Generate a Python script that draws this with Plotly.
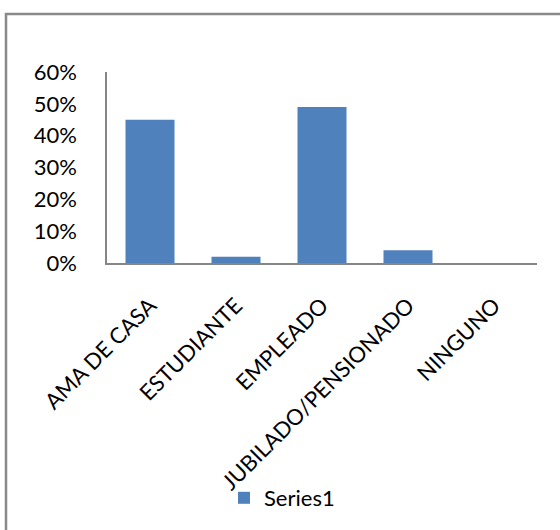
import plotly.graph_objects as go

categories = ["AMA DE CASA", "ESTUDIANTE", "EMPLEADO", "JUBILADO/PENSIONADO", "NINGUNO"]
values = [0.45, 0.02, 0.49, 0.04, 0.0]
series_name = "Series1"
y_ticks = [0, 0.1, 0.2, 0.3, 0.4, 0.5, 0.6]
y_tick_labels = ["0%", "10%", "20%", "30%", "40%", "50%", "60%"]

W, H = 560, 530
L, R, T, B = 107, 23, 72, 267
pw, ph = W - L - R, H - T - B

def px_x(x):
    return (x - L) / pw

def px_y(y):
    return (H - B - y) / ph

font = dict(family="Lato, Liberation Sans, Arial", size=22, color="#000000")

fig = go.Figure()
fig.add_trace(go.Bar(
    x=categories, y=values, name=series_name,
    marker=dict(color="#4F81BD", line=dict(width=0)),
    showlegend=True,
))

fig.update_layout(
    width=W, height=H,
    margin=dict(l=L, r=R, t=T, b=B, pad=0),
    paper_bgcolor="white", plot_bgcolor="white",
    font=font,
    bargap=0.43,
    showlegend=True,
    legend=dict(orientation="h", x=px_x(282), xanchor="center",
                y=px_y(498), yanchor="middle", font=font,
                itemwidth=30, bgcolor="rgba(0,0,0,0)"),
    xaxis=dict(showgrid=False, showline=True, linecolor="#868686", linewidth=2,
               tickangle=-45, ticks="", ticklabelstandoff=19, tickfont=font,
               zeroline=False),
    yaxis=dict(range=[0, 0.6], tickvals=y_ticks, ticktext=y_tick_labels,
               showgrid=False, showline=True, linecolor="#868686", linewidth=1.5,
               ticks="", ticklabelstandoff=24, tickfont=font, zeroline=False),
    shapes=[dict(type="rect", xref="paper", yref="paper",
                 x0=px_x(6), x1=px_x(580), y0=px_y(560), y1=px_y(14),
                 line=dict(color="#898989", width=2.5), fillcolor="rgba(0,0,0,0)",
                 layer="below")],
)

fig.write_html("out.html", config={"displayModeBar": False},
               post_script="document.body.style.margin='0';document.body.style.overflow='hidden';")
